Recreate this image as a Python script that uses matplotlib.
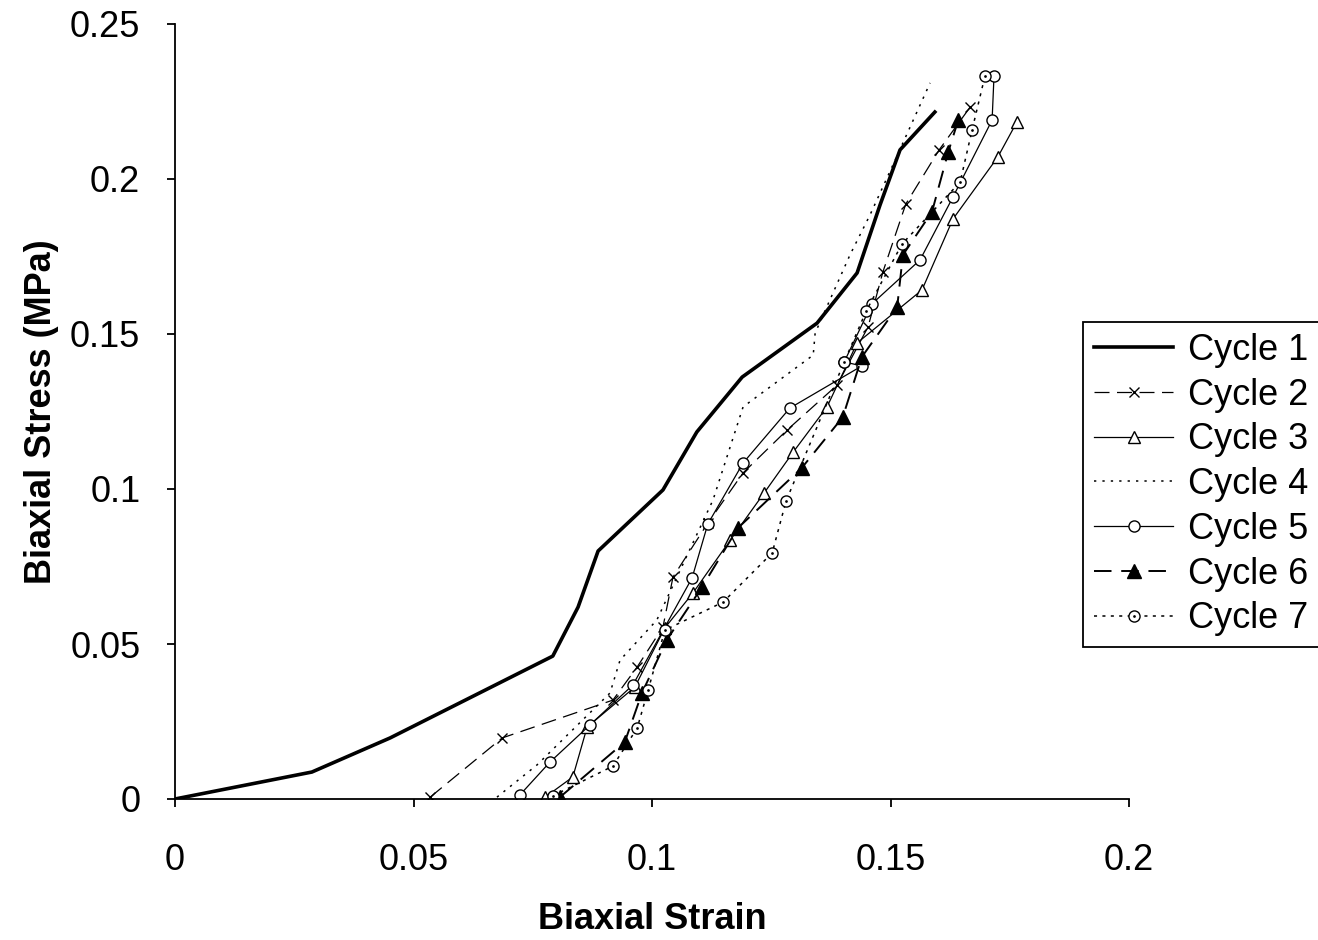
"""
Biaxial stress vs strain for seven loading cycles
"""

import matplotlib
matplotlib.use('Agg')
import matplotlib.pyplot as plt
from matplotlib.path import Path

plt.rcParams['font.family'] = ['Liberation Sans', 'DejaVu Sans']

# strain / stress (MPa) per cycle
c1_x = [0.0, 0.0287, 0.0451, 0.0792, 0.0845, 0.0887, 0.1023, 0.1094, 0.1189, 0.1346, 0.1430, 0.1478, 0.1520, 0.1593]
c1_y = [0.0, 0.0087, 0.0197, 0.0461, 0.0619, 0.0800, 0.0997, 0.1184, 0.1361, 0.1535, 0.1697, 0.1916, 0.2094, 0.2216]

c2_x = [0.0535, 0.0686, 0.0918, 0.0969, 0.1023, 0.1044, 0.1117, 0.1191, 0.1283, 0.1388, 0.1453, 0.1484, 0.1532, 0.1602, 0.1667]
c2_y = [0.0006, 0.0197, 0.0319, 0.0426, 0.0555, 0.0716, 0.0890, 0.1052, 0.1190, 0.1335, 0.1523, 0.1700, 0.1919, 0.2094, 0.2232]

c3_x = [0.0776, 0.0834, 0.0864, 0.0964, 0.1027, 0.1086, 0.1164, 0.1235, 0.1296, 0.1367, 0.1430, 0.1566, 0.1631, 0.1725, 0.1765]
c3_y = [0.0006, 0.0071, 0.0232, 0.0361, 0.0552, 0.0665, 0.0835, 0.0987, 0.1119, 0.1265, 0.1471, 0.1642, 0.1871, 0.2071, 0.2184]

c4_x = [0.0675, 0.0759, 0.0912, 0.0933, 0.1010, 0.1128, 0.1191, 0.1338, 0.1342, 0.1415, 0.1457, 0.1505, 0.1583]
c4_y = [0.0006, 0.0110, 0.0342, 0.0448, 0.0577, 0.0965, 0.1265, 0.1432, 0.1503, 0.1755, 0.1884, 0.2045, 0.2310]

c5_x = [0.0723, 0.0786, 0.0870, 0.0960, 0.1084, 0.1117, 0.1191, 0.1289, 0.1440, 0.1403, 0.1461, 0.1562, 0.1631, 0.1713, 0.1717]
c5_y = [0.0013, 0.0119, 0.0239, 0.0368, 0.0713, 0.0887, 0.1084, 0.1261, 0.1397, 0.1410, 0.1597, 0.1739, 0.1942, 0.2190, 0.2332]

c6_x = [0.0807, 0.0943, 0.0979, 0.1031, 0.1105, 0.1180, 0.1314, 0.1400, 0.1440, 0.1514, 0.1526, 0.1587, 0.1621, 0.1642]
c6_y = [0.0006, 0.0184, 0.0342, 0.0513, 0.0684, 0.0874, 0.1068, 0.1232, 0.1426, 0.1587, 0.1755, 0.1894, 0.2087, 0.2190]

c7_x = [0.0792, 0.0918, 0.0969, 0.0992, 0.1027, 0.1149, 0.1252, 0.1281, 0.1403, 0.1449, 0.1524, 0.1646, 0.1671, 0.1698]
c7_y = [0.0010, 0.0106, 0.0229, 0.0352, 0.0545, 0.0635, 0.0794, 0.0961, 0.1410, 0.1574, 0.1790, 0.1990, 0.2158, 0.2332]

labels = ['Cycle 1', 'Cycle 2', 'Cycle 3', 'Cycle 4', 'Cycle 5', 'Cycle 6', 'Cycle 7']
x_ticks = [0, 0.05, 0.1, 0.15, 0.2]
y_ticks = [0, 0.05, 0.1, 0.15, 0.2, 0.25]

# circle with a dot in the middle
dot_circle = Path.make_compound_path(Path.unit_circle(), Path.circle((0, 0), 0.12))

fig = plt.figure(figsize=(13.18, 9.4), dpi=100)
ax = fig.add_axes([175/1318, 1 - 799/940, (1129-175)/1318, (799-24)/940])

ax.plot(c1_x, c1_y, '-', color='black', lw=2.6, label=labels[0])
ax.plot(c2_x, c2_y, color='black', lw=0.9, dashes=(12, 6), marker='x', ms=7, mew=1.0, label=labels[1])
ax.plot(c3_x, c3_y, '-', color='black', lw=0.9, marker='^', ms=9, mfc='white', mew=1.0, label=labels[2])
ax.plot(c4_x, c4_y, color='black', lw=1.1, dashes=(1.5, 4), label=labels[3])
ax.plot(c5_x, c5_y, '-', color='black', lw=0.9, marker='o', ms=8, mfc='white', mew=1.0, label=labels[4])
ax.plot(c6_x, c6_y, color='black', lw=1.4, dashes=(9, 5), marker='^', ms=10, mfc='black', label=labels[5])
ax.plot(c7_x, c7_y, color='black', lw=1.1, dashes=(2, 3.5), marker=dot_circle, ms=8, mfc='white', mew=1.0, label=labels[6])

ax.set_xlim(0, 0.2)
ax.set_ylim(0, 0.25)
ax.set_xticks(x_ticks)
ax.set_yticks(y_ticks)
ax.set_xticklabels(['%g' % v for v in x_ticks])
ax.set_yticklabels(['%g' % v for v in y_ticks])
ax.tick_params(axis='both', direction='out', length=6, width=1.3, labelsize=26)
ax.tick_params(axis='x', pad=26)
ax.tick_params(axis='y', pad=19)

for side in ['top', 'right']:
    ax.spines[side].set_visible(False)
for side in ['left', 'bottom']:
    ax.spines[side].set_linewidth(1.3)

ax.set_xlabel('Biaxial Strain', fontsize=26, fontweight='bold', labelpad=17)
ax.set_ylabel('Biaxial Stress (MPa)', fontsize=26, fontweight='bold', labelpad=8)

leg = ax.legend(loc='upper left', bbox_to_anchor=(1083/1318, 1 - 322/940), bbox_transform=fig.transFigure,
                fontsize=26, frameon=True, fancybox=False, edgecolor='black', framealpha=1,
                handlelength=2.2, handletextpad=0.4, labelspacing=0.27, borderpad=0.3, borderaxespad=0)
leg.get_frame().set_linewidth(1.3)

fig.savefig('out.png', dpi=100)
